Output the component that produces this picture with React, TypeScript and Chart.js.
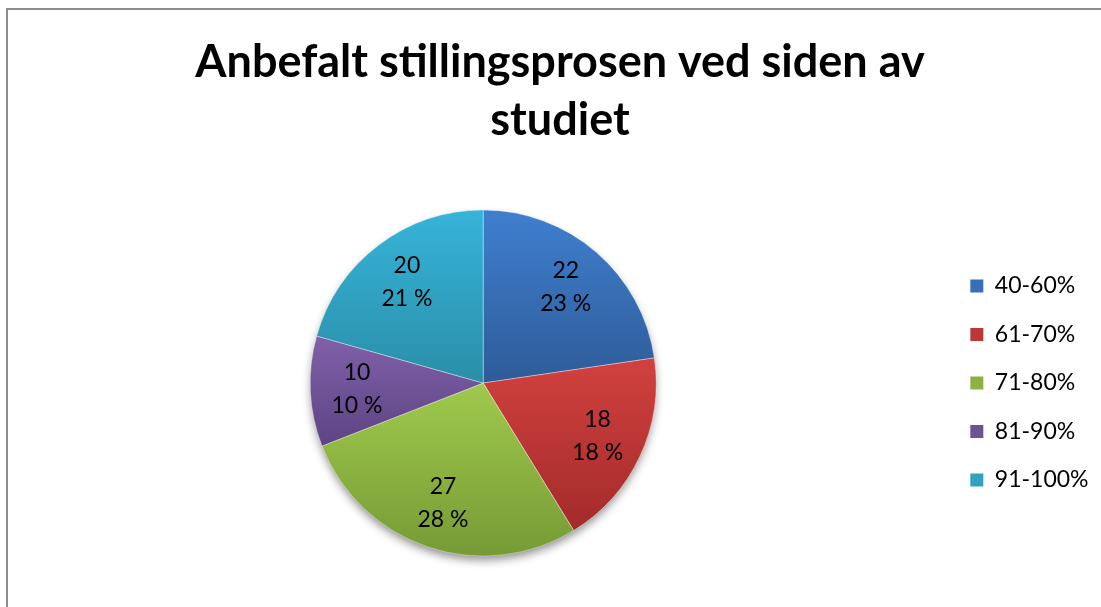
import React, { useEffect, useRef } from "react";
import { Chart, registerables } from "chart.js";

Chart.register(...registerables);

const titleLines = ["Anbefalt stillingsprosen ved siden av", "studiet"];
const categories = ["40-60%", "61-70%", "71-80%", "81-90%", "91-100%"];
const values = [22, 18, 27, 10, 20];
const percentLabels = ["23 %", "18 %", "28 %", "10 %", "21 %"];
const topColors = ["#3f7fcf", "#d2413f", "#9fca4c", "#8060aa", "#36b4d9"];
const bottomColors = ["#2e5c98", "#a22b2a", "#779a36", "#5d4482", "#2a8ea8"];
const midColors = ["#386eb5", "#bd3835", "#8cb244", "#6f5296", "#31a1c0"];

const PIE_RADIUS = 173;
const FONT = "Lato, 'Open Sans', sans-serif";

function sliceGradient(context: any) {
  const chart = context.chart;
  const i = context.dataIndex;
  const area = chart.chartArea;
  if (!area || i === undefined) return midColors[i ?? 0];
  const cy = (area.top + area.bottom) / 2;
  const total = values.reduce((a, b) => a + b, 0);
  let before = 0;
  for (let k = 0; k < i; k++) before += values[k];
  const a0 = -Math.PI / 2 + (before / total) * Math.PI * 2;
  const a1 = -Math.PI / 2 + ((before + values[i]) / total) * Math.PI * 2;
  let ymin = Math.min(cy, cy + PIE_RADIUS * Math.sin(a0), cy + PIE_RADIUS * Math.sin(a1));
  let ymax = Math.max(cy, cy + PIE_RADIUS * Math.sin(a0), cy + PIE_RADIUS * Math.sin(a1));
  const inRange = (a: number) => {
    for (let t = a - 4 * Math.PI; t <= a + 4 * Math.PI; t += 2 * Math.PI) {
      if (t >= a0 && t <= a1) return true;
    }
    return false;
  };
  if (inRange(Math.PI / 2)) ymax = cy + PIE_RADIUS;
  if (inRange(-Math.PI / 2)) ymin = cy - PIE_RADIUS;
  const g = chart.ctx.createLinearGradient(0, ymin, 0, ymax);
  g.addColorStop(0, topColors[i]);
  g.addColorStop(1, bottomColors[i]);
  return g;
}

const shadowPlugin = {
  id: "pieShadow",
  beforeDatasetsDraw(chart: any) {
    const area = chart.chartArea;
    const cx = (area.left + area.right) / 2;
    const cy = (area.top + area.bottom) / 2;
    const ctx = chart.ctx;
    ctx.save();
    ctx.shadowColor = "rgba(0,0,0,0.45)";
    ctx.shadowBlur = 10;
    ctx.shadowOffsetY = 5;
    ctx.fillStyle = "#ffffff";
    ctx.beginPath();
    ctx.arc(cx, cy, PIE_RADIUS - 1, 0, Math.PI * 2);
    ctx.fill();
    ctx.restore();
  },
};

const labelPlugin = {
  id: "sliceLabels",
  afterDatasetsDraw(chart: any) {
    const meta = chart.getDatasetMeta(0);
    const ctx = chart.ctx;
    ctx.save();
    ctx.font = `23px ${FONT}`;
    ctx.fillStyle = "#000000";
    ctx.textAlign = "center";
    ctx.textBaseline = "middle";
    meta.data.forEach((arc: any, i: number) => {
      const p = arc.getProps(["x", "y", "startAngle", "endAngle", "outerRadius"], true);
      const mid = (p.startAngle + p.endAngle) / 2;
      const d = p.outerRadius * 0.73;
      const x = p.x + Math.cos(mid) * d;
      const y = p.y + Math.sin(mid) * d;
      ctx.fillText(String(values[i]), x, y - 16.5);
      ctx.fillText(percentLabels[i], x, y + 16.5);
    });
    ctx.restore();
  },
};

export default function App() {
  const canvasRef = useRef<HTMLCanvasElement | null>(null);

  useEffect(() => {
    if (!canvasRef.current) return;
    const chart = new Chart(canvasRef.current, {
      type: "pie",
      data: {
        labels: categories,
        datasets: [
          {
            data: values,
            backgroundColor: sliceGradient as any,
            borderColor: "rgba(255,255,255,0.35)",
            borderWidth: 1,
            radius: PIE_RADIUS,
          } as any,
        ],
      },
      options: {
        animation: false,
        responsive: false,
        devicePixelRatio: 1,
        layout: { padding: { left: 13.5, right: 17.5, top: 0, bottom: 13 } },
        plugins: {
          title: {
            display: true,
            text: titleLines,
            color: "#000000",
            font: { family: FONT, size: 45, weight: "bold", lineHeight: 1.29 },
            padding: { top: 23, bottom: 10 },
          },
          legend: {
            display: true,
            position: "right",
            fullSize: false,
            labels: {
              boxWidth: 13,
              boxHeight: 13,
              padding: 25.5,
              color: "#000000",
              font: { family: FONT, size: 23 },
              generateLabels: (c: any) => {
                const items = Chart.overrides.pie.plugins.legend.labels.generateLabels(c);
                return items.map((it: any, i: number) => ({
                  ...it,
                  fillStyle: midColors[i],
                  strokeStyle: midColors[i],
                  lineWidth: 0,
                }));
              },
            },
          },
          tooltip: { enabled: false },
        },
      },
      plugins: [shadowPlugin, labelPlugin],
    });
    return () => chart.destroy();
  }, []);

  return (
    <div
      style={{
        position: "fixed",
        left: 6,
        top: 8,
        width: 1110,
        height: 612,
        borderLeft: "2px solid #8c8c8c",
        borderTop: "2px solid #8c8c8c",
        background: "#ffffff",
      }}
    >
      <canvas ref={canvasRef} width={1108} height={610} style={{ display: "block", width: 1108, height: 610 }} />
    </div>
  );
}
